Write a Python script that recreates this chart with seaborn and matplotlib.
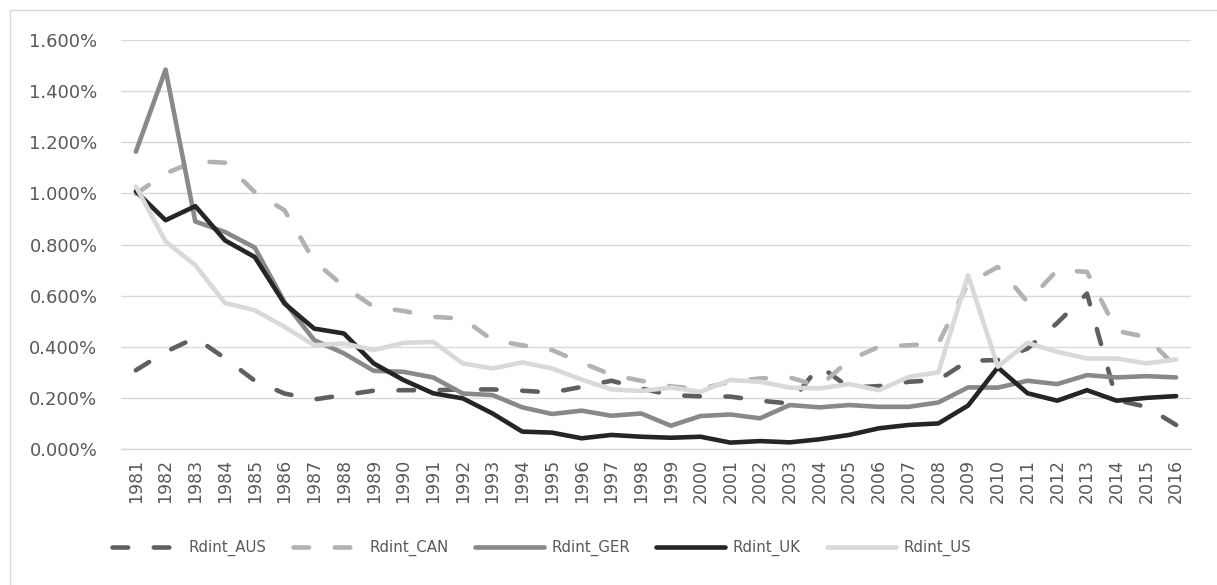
import matplotlib
matplotlib.use("Agg")
import matplotlib.pyplot as plt
from matplotlib.patches import Rectangle
from matplotlib.ticker import FixedLocator, FuncFormatter
import numpy as np
import pandas as pd
import seaborn as sns

# R&D intensity by country, in percent
years = list(range(1981, 2017))
rdint_aus = [0.308, 0.380, 0.435, 0.355, 0.267, 0.217, 0.194, 0.211, 0.228, 0.230,
             0.230, 0.233, 0.233, 0.228, 0.221, 0.243, 0.267, 0.237, 0.211, 0.206,
             0.205, 0.189, 0.178, 0.325, 0.240, 0.246, 0.263, 0.270, 0.345, 0.348,
             0.393, 0.493, 0.608, 0.191, 0.165, 0.094]
rdint_can = [0.998, 1.078, 1.126, 1.120, 1.005, 0.934, 0.735, 0.636, 0.556, 0.540,
             0.517, 0.510, 0.426, 0.406, 0.387, 0.338, 0.290, 0.267, 0.245, 0.235,
             0.263, 0.276, 0.280, 0.245, 0.348, 0.400, 0.406, 0.413, 0.648, 0.712,
             0.575, 0.700, 0.693, 0.462, 0.438, 0.320]
rdint_ger = [1.163, 1.484, 0.890, 0.849, 0.788, 0.575, 0.426, 0.374, 0.306, 0.302,
             0.280, 0.217, 0.211, 0.163, 0.137, 0.150, 0.130, 0.139, 0.091, 0.129,
             0.135, 0.120, 0.172, 0.163, 0.172, 0.165, 0.165, 0.182, 0.241, 0.240,
             0.267, 0.254, 0.289, 0.280, 0.285, 0.280]
rdint_uk = [1.008, 0.895, 0.950, 0.816, 0.751, 0.569, 0.471, 0.452, 0.335, 0.270,
            0.218, 0.198, 0.139, 0.068, 0.064, 0.042, 0.055, 0.048, 0.044, 0.048,
            0.025, 0.031, 0.026, 0.038, 0.055, 0.081, 0.094, 0.100, 0.170, 0.319,
            0.218, 0.189, 0.230, 0.189, 0.200, 0.207]
rdint_us = [1.027, 0.812, 0.719, 0.571, 0.543, 0.478, 0.406, 0.413, 0.387, 0.415,
            0.419, 0.335, 0.315, 0.339, 0.315, 0.272, 0.233, 0.227, 0.240, 0.224,
            0.270, 0.263, 0.240, 0.237, 0.254, 0.230, 0.282, 0.300, 0.680, 0.322,
            0.415, 0.380, 0.354, 0.354, 0.335, 0.350]

series_names = ["Rdint_AUS", "Rdint_CAN", "Rdint_GER", "Rdint_UK", "Rdint_US"]
y_ticks = [0.0, 0.2, 0.4, 0.6, 0.8, 1.0, 1.2, 1.4, 1.6]

colors = {"Rdint_AUS": "#5f5f5f", "Rdint_CAN": "#b2b2b2", "Rdint_GER": "#898989",
          "Rdint_UK": "#252525", "Rdint_US": "#d9d9d9"}
long_dash = (3.4, 5.6)
dash_styles = {"Rdint_AUS": long_dash, "Rdint_CAN": long_dash, "Rdint_GER": "",
               "Rdint_UK": "", "Rdint_US": ""}

df = pd.DataFrame({"year": years, "Rdint_AUS": rdint_aus, "Rdint_CAN": rdint_can,
                   "Rdint_GER": rdint_ger, "Rdint_UK": rdint_uk, "Rdint_US": rdint_us})
long_df = df.melt(id_vars="year", var_name="series", value_name="value")

sns.set_theme(style="white")
plt.rcParams["font.family"] = ["DejaVu Sans"]
text_color = "#595959"
grid_color = "#d9d9d9"

W, H = 1217, 585
fig = plt.figure(figsize=(W / 100, H / 100), dpi=100)
fig.patch.set_facecolor("white")

# chart-area frame
fig.add_artist(Rectangle((10 / W, -0.05), (W - 10) / W - 10 / W + 0.01, (H - 10) / H + 0.05,
                         transform=fig.transFigure, fill=False,
                         edgecolor=grid_color, linewidth=1.0))

ax = fig.add_axes([121 / W, (H - 449) / H, 1070 / W, 409 / H])

sns.lineplot(data=long_df, x="year", y="value", hue="series", style="series",
             hue_order=series_names, style_order=series_names,
             palette=colors, dashes=dash_styles, linewidth=3.3,
             dash_capstyle="round", solid_capstyle="round", solid_joinstyle="round",
             legend=False, ax=ax)

ax.set_xlim(years[0] - 0.5, years[-1] + 0.5)
ax.set_ylim(y_ticks[0], y_ticks[-1])
ax.yaxis.set_major_locator(FixedLocator(y_ticks))
ax.yaxis.set_major_formatter(FuncFormatter(lambda v, p: f"{v:.3f}%"))
ax.set_xticks(years)
ax.set_xticklabels([str(y) for y in years], rotation=90)
ax.set_xlabel("")
ax.set_ylabel("")

ax.grid(axis="y", color=grid_color, linewidth=1.0)
ax.set_axisbelow(True)
for side in ("top", "right", "left"):
    ax.spines[side].set_visible(False)
ax.spines["bottom"].set_color(grid_color)
ax.spines["bottom"].set_linewidth(1.0)
ax.tick_params(axis="both", length=0, colors=text_color)
ax.tick_params(axis="y", labelsize=13, pad=17)
ax.tick_params(axis="x", labelsize=12.5, pad=7)

handles = ax.get_lines()[:len(series_names)]
leg_fs = 10.8
leg = fig.legend(handles, series_names, loc="center left",
                 bbox_to_anchor=(106 / W, (H - 548) / H), borderaxespad=0,
                 ncol=5, frameon=False, fontsize=leg_fs, handlelength=4.6,
                 handletextpad=0.5, columnspacing=1.75, labelcolor=text_color)

fig.savefig("out.png", dpi=100, facecolor="white")
